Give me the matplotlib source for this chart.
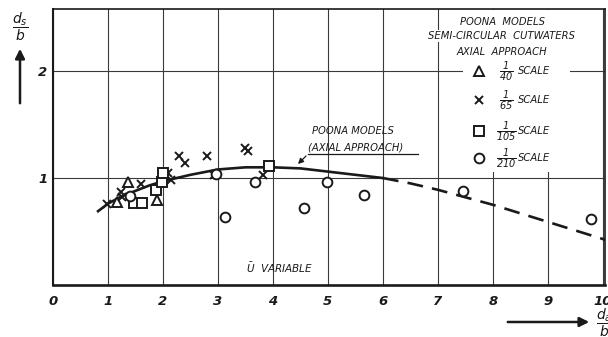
# Scour depth vs flow depth for Poona models with semi-circular cutwaters
import matplotlib
matplotlib.use("Agg")
import matplotlib.pyplot as plt

plt.rcParams['font.family'] = ['DejaVu Sans']
plt.rcParams['font.style'] = 'italic'
plt.rcParams['mathtext.default'] = 'it'

# Observed points, one list pair per model scale
tri_x = [1.17, 1.36, 1.89]
tri_y = [0.78, 0.96, 0.79]

cross_x = [0.98, 1.24, 1.26, 1.60, 2.10, 2.15, 2.29, 2.40, 2.80, 2.93, 3.49, 3.55, 3.82]
cross_y = [0.76, 0.87, 0.82, 0.94, 1.05, 0.98, 1.21, 1.14, 1.21, 1.03, 1.28, 1.25, 1.03]

square_x = [1.47, 1.62, 1.88, 1.98, 2.00, 3.92]
square_y = [0.77, 0.77, 0.89, 0.96, 1.05, 1.11]

circle_x = [1.40, 2.96, 3.13, 3.68, 4.56, 4.98, 5.65, 7.45, 9.78]
circle_y = [0.83, 1.04, 0.64, 0.96, 0.72, 0.96, 0.84, 0.88, 0.62]

# Fitted curve: solid over the tested range, dashed beyond it
fit_x = [0.82, 1.0, 1.25, 1.5, 1.75, 2.0, 2.5, 3.0, 3.5, 4.0, 4.5, 5.0, 5.5, 6.0]
fit_y = [0.69, 0.76, 0.83, 0.88, 0.93, 0.97, 1.03, 1.08, 1.10, 1.10, 1.09, 1.06, 1.03, 1.00]
ext_x = [6.0, 6.5, 7.0, 7.5, 8.0, 8.5, 9.0, 9.5, 10.0, 10.1]
ext_y = [1.00, 0.95, 0.89, 0.82, 0.75, 0.67, 0.59, 0.51, 0.43, 0.41]

x_ticks = [0, 1, 2, 3, 4, 5, 6, 7, 8, 9, 10]
y_ticks = [1, 2]

W, H = 608, 337


def px(x, y):
    return x / W, 1 - y / H


fig = plt.figure(figsize=(W / 100, H / 100), dpi=100)
ax = fig.add_axes([53 / W, (H - 285) / H, 552 / W, 276 / H])
ax.set_xlim(0, 10.04)
ax.set_ylim(0, 2.58)

ink = '#1a1a1a'
ax.set_xticks(x_ticks)
ax.set_yticks(y_ticks)
ax.set_xticklabels([str(t) for t in x_ticks], fontsize=9.5, fontweight='bold')
ax.set_yticklabels([str(t) for t in y_ticks], fontsize=9.5, fontweight='bold')
ax.tick_params(length=0, colors=ink)
ax.tick_params(axis='x', pad=7)
ax.tick_params(axis='y', pad=4)
ax.grid(True, color='#3a3a3a', lw=0.8)
ax.set_axisbelow(True)
for side, lw in [('bottom', 1.9), ('left', 1.5), ('top', 1.2), ('right', 1.2)]:
    ax.spines[side].set_linewidth(lw)
    ax.spines[side].set_color(ink)

ax.plot(fit_x, fit_y, color=ink, lw=1.9, zorder=3)
ax.plot(ext_x, ext_y, color=ink, lw=1.9, dashes=(6, 3.5), zorder=3)

mk = dict(ls='none', mfc='white', mec=ink, mew=1.4, zorder=4)
ax.plot(tri_x, tri_y, marker='^', ms=6.5, **mk)
ax.plot(cross_x, cross_y, marker='x', ms=6, **mk)
ax.plot(square_x, square_y, marker='s', ms=6.5, **mk)
ax.plot(circle_x, circle_y, marker='o', ms=7, **mk)

# Curve label with underline and leader arrow
fig.text(*px(312, 134), 'POONA MODELS', fontsize=7.2, color=ink)
fig.text(*px(308, 151), '(AXIAL APPROACH)', fontsize=7.2, color=ink)
fig.add_artist(plt.Line2D([308 / W, 418 / W], [1 - 154 / H, 1 - 154 / H],
                          color=ink, lw=0.9))
fig.add_artist(matplotlib.patches.FancyArrowPatch(
    px(308, 154), px(296, 166), arrowstyle='-|>', mutation_scale=8,
    color=ink, lw=0.9))

fig.text(*px(246, 273), r'$\bar{U}$  VARIABLE', fontsize=7.5, color=ink)

# Key in the upper right corner, blanking the grid behind it
for x0, y0, w, h in [(445, 62, 145, 52), (463, 172, 107, 110)]:
    fig.patches.append(matplotlib.patches.Rectangle(
        px(x0, y0), w / W, h / H, transform=fig.transFigure,
        facecolor='white', edgecolor='none', zorder=1))
wbox = dict(facecolor='white', edgecolor='none', pad=1.0)
for yy, line in [(22, 'POONA  MODELS'), (36, 'SEMI-CIRCULAR  CUTWATERS'),
                 (52, 'AXIAL  APPROACH')]:
    fig.text(*px(502, yy), line, fontsize=7.2, ha='center', va='center',
             color=ink, bbox=wbox)

key = [('^', 6.5, '40', 71), ('x', 6, '65', 100), ('s', 6.5, '105', 131),
       ('o', 7, '210', 158)]
for m, ms, den, yy in key:
    fig.add_artist(plt.Line2D([479 / W], [1 - yy / H], marker=m, ms=ms,
                              mfc='white', mec=ink, mew=1.4, ls='none'))
    fig.text(*px(506, yy + 1), r'$\frac{1}{%s}$' % den, fontsize=10,
             ha='center', va='center', color=ink)
    fig.text(*px(518, yy), 'SCALE', fontsize=7.2, va='center', color=ink)

# Axis captions with arrows
fig.text(*px(20, 27), r'$\dfrac{d_s}{b}$', fontsize=10, ha='center',
         va='center', color=ink)
fig.add_artist(matplotlib.patches.FancyArrowPatch(
    px(20, 106), px(20, 46), arrowstyle='-|>', mutation_scale=14,
    color=ink, lw=1.8))
fig.add_artist(matplotlib.patches.FancyArrowPatch(
    px(505, 322), px(592, 322), arrowstyle='-|>', mutation_scale=14,
    color=ink, lw=1.8))
fig.text(*px(596, 323), r'$\dfrac{d_a}{b}$', fontsize=10, ha='left',
         va='center', color=ink)

fig.savefig('out.png', dpi=100)
